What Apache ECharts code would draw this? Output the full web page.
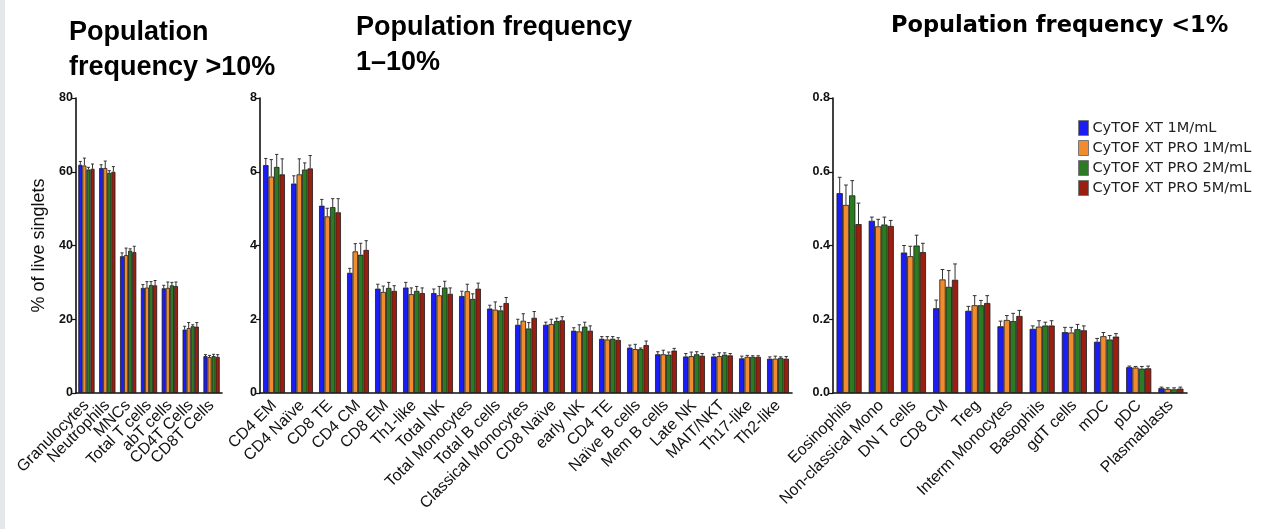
<!DOCTYPE html>
<html>
<head>
<meta charset="utf-8">
<script src="https://cdn.jsdelivr.net/npm/echarts@6/dist/echarts.min.js"></script>
<style>
  html, body { margin: 0; padding: 0; background: #fff; }
  #chart { width: 1261px; height: 529px; }
</style>
</head>
<body>
<div id="chart"></div>
<script>
// Instrument / concentration groups
const seriesNames = ['CyTOF XT 1M/mL', 'CyTOF XT PRO 1M/mL', 'CyTOF XT PRO 2M/mL', 'CyTOF XT PRO 5M/mL'];
const seriesColors = ['#1c1cf5', '#f28a2e', '#2c7a22', '#9a1f10'];

// Panel 1: populations > 10 % of live singlets
const catsHigh = ['Granulocytes', 'Neutrophils', 'MNCs', 'Total T cells', 'abT cells', 'CD4T Cells', 'CD8T Cells'];
const highXT1 = [61.9, 61.0, 37.1, 28.5, 28.4, 17.2, 10.0];
const highPRO1 = [61.7, 61.0, 37.4, 28.6, 28.5, 17.6, 9.75];
const highPRO2 = [60.6, 59.7, 38.6, 29.3, 29.2, 18.1, 10.0];
const highPRO5 = [60.8, 60.0, 38.2, 29.2, 29.0, 18.0, 9.8];
const highXT1Sd = [0.9, 0.9, 0.9, 0.9, 0.8, 0.9, 0.4];
const highPRO1Sd = [2.0, 1.9, 1.9, 1.6, 1.6, 1.5, 0.45];
const highPRO2Sd = [0.6, 0.6, 0.5, 0.9, 0.8, 0.4, 0.5];
const highPRO5Sd = [1.3, 1.4, 1.6, 1.3, 1.1, 1.1, 0.6];

// Panel 2: populations 1-10 %
const catsMid = ['CD4 EM', 'CD4 Naïve', 'CD8 TE', 'CD4 CM', 'CD8 EM', 'Th1-like', 'Total NK', 'Total Monocytes',
  'Total B cells', 'Classical Monocytes', 'CD8 Naïve', 'early NK', 'CD4 TE', 'Naïve B cells', 'Mem B cells',
  'Late NK', 'MAIT/NKT', 'Th17-like', 'Th2-like'];
const midXT1 = [6.18, 5.68, 5.08, 3.26, 2.83, 2.86, 2.71, 2.63, 2.29, 1.85, 1.85, 1.69, 1.47, 1.23, 1.05, 0.99, 0.99, 0.94, 0.93];
const midPRO1 = [5.87, 5.93, 4.79, 3.84, 2.74, 2.68, 2.65, 2.76, 2.26, 1.96, 1.87, 1.67, 1.45, 1.19, 1.05, 1.00, 1.00, 0.98, 0.93];
const midPRO2 = [6.13, 6.06, 5.04, 3.75, 2.85, 2.77, 2.86, 2.55, 2.24, 1.75, 1.95, 1.80, 1.47, 1.19, 1.04, 1.05, 1.04, 0.98, 0.95];
const midPRO5 = [5.93, 6.09, 4.90, 3.88, 2.77, 2.71, 2.69, 2.83, 2.44, 2.04, 1.97, 1.69, 1.44, 1.30, 1.15, 1.01, 1.02, 0.98, 0.93];
const midXT1Sd = [0.18, 0.21, 0.17, 0.12, 0.12, 0.14, 0.11, 0.13, 0.09, 0.15, 0.07, 0.08, 0.06, 0.07, 0.07, 0.08, 0.06, 0.06, 0.05];
const midPRO1Sd = [0.46, 0.42, 0.22, 0.21, 0.16, 0.17, 0.24, 0.19, 0.21, 0.19, 0.13, 0.18, 0.08, 0.13, 0.11, 0.11, 0.09, 0.04, 0.07];
const midPRO2Sd = [0.34, 0.18, 0.23, 0.31, 0.15, 0.12, 0.17, 0.14, 0.11, 0.16, 0.08, 0.12, 0.06, 0.03, 0.07, 0.07, 0.05, 0.03, 0.03];
const midPRO5Sd = [0.42, 0.35, 0.37, 0.25, 0.14, 0.14, 0.16, 0.15, 0.15, 0.17, 0.10, 0.13, 0.06, 0.11, 0.06, 0.06, 0.05, 0.03, 0.06];

// Panel 3: populations < 1 %
const catsLow = ['Eosinophils', 'Non-classical Mono', 'DN T cells', 'CD8 CM', 'Treg', 'Interm Monocytes',
  'Basophils', 'gdT cells', 'mDC', 'pDC', 'Plasmablasts'];
const lowXT1 = [0.542, 0.467, 0.381, 0.230, 0.223, 0.181, 0.174, 0.165, 0.139, 0.070, 0.013];
const lowPRO1 = [0.510, 0.452, 0.371, 0.308, 0.238, 0.198, 0.180, 0.164, 0.154, 0.069, 0.011];
const lowPRO2 = [0.536, 0.457, 0.400, 0.288, 0.238, 0.195, 0.183, 0.173, 0.145, 0.066, 0.010];
const lowPRO5 = [0.458, 0.453, 0.382, 0.307, 0.244, 0.209, 0.183, 0.170, 0.153, 0.067, 0.012];
const lowXT1Sd = [0.043, 0.010, 0.019, 0.022, 0.012, 0.014, 0.008, 0.013, 0.009, 0.003, 0.003];
const lowPRO1Sd = [0.054, 0.019, 0.027, 0.027, 0.026, 0.012, 0.016, 0.014, 0.010, 0.003, 0.003];
const lowPRO2Sd = [0.040, 0.020, 0.028, 0.044, 0.013, 0.021, 0.009, 0.013, 0.011, 0.006, 0.004];
const lowPRO5Sd = [0.057, 0.015, 0.024, 0.043, 0.020, 0.015, 0.013, 0.012, 0.008, 0.006, 0.004];

// Y axis ticks per panel
const yAxisHigh = { min: 0, max: 80, interval: 20 };
const yAxisMid = { min: 0, max: 8, interval: 2 };
const yAxisLow = { min: 0, max: 0.8, interval: 0.2 };

const CATEGORY_GAP = 0.22;

const panels = [
  { cats: catsHigh, means: [highXT1, highPRO1, highPRO2, highPRO5], sds: [highXT1Sd, highPRO1Sd, highPRO2Sd, highPRO5Sd], y: yAxisHigh, digits: 0 },
  { cats: catsMid, means: [midXT1, midPRO1, midPRO2, midPRO5], sds: [midXT1Sd, midPRO1Sd, midPRO2Sd, midPRO5Sd], y: yAxisMid, digits: 0 },
  { cats: catsLow, means: [lowXT1, lowPRO1, lowPRO2, lowPRO5], sds: [lowXT1Sd, lowPRO1Sd, lowPRO2Sd, lowPRO5Sd], y: yAxisLow, digits: 1 }
];

const grids = [
  { left: 76, top: 98, width: 146, height: 295 },
  { left: 260, top: 98, width: 532, height: 295 },
  { left: 833, top: 98, width: 354, height: 295 }
];

const AXIS_COLOR = '#111';
const LABEL_FONT = 'Liberation Sans, Arial, sans-serif';

const xAxes = panels.map((p, i) => ({
  type: 'category',
  gridIndex: i,
  data: p.cats,
  axisLine: { lineStyle: { color: AXIS_COLOR, width: 1.6 } },
  axisTick: { alignWithLabel: true, length: 4, lineStyle: { color: AXIS_COLOR, width: 1.2 } },
  axisLabel: { interval: 0, rotate: 45, fontSize: 16, color: '#111', margin: 10, fontFamily: LABEL_FONT }
}));

const yAxes = panels.map((p, i) => ({
  type: 'value',
  gridIndex: i,
  min: p.y.min, max: p.y.max, interval: p.y.interval,
  splitLine: { show: false },
  axisLine: { show: true, lineStyle: { color: AXIS_COLOR, width: 1.6 } },
  axisTick: { show: true, length: 4, lineStyle: { color: AXIS_COLOR, width: 1.2 } },
  axisLabel: {
    fontSize: 12.5, fontWeight: 'bold', color: '#111', margin: 3, fontFamily: LABEL_FONT,
    formatter: v => v.toFixed(p.digits)
  },
  name: i === 0 ? '% of live singlets' : '',
  nameLocation: 'middle',
  nameGap: 28,
  nameTextStyle: { fontSize: 18, color: '#111', fontFamily: LABEL_FONT }
}));

// Upper-only error bars positioned on each bar of the group
function errorRenderer(params, api) {
  const cat = api.value(0);
  const k = api.value(1);
  const m = api.value(2);
  const s = api.value(3);
  const base = api.coord([cat, m]);
  const top = api.coord([cat, m + s]);
  const band = api.size([1, 0])[0];
  const groupW = band * (1 - CATEGORY_GAP);
  const bw = groupW / 4;
  const x = base[0] - groupW / 2 + bw * (k + 0.5);
  const half = Math.max(1.5, bw * 0.3);
  const style = { stroke: '#333', lineWidth: 1 };
  return {
    type: 'group',
    children: [
      { type: 'line', shape: { x1: x, y1: base[1], x2: x, y2: top[1] }, style },
      { type: 'line', shape: { x1: x - half, y1: top[1], x2: x + half, y2: top[1] }, style }
    ]
  };
}

const series = [];
panels.forEach((p, i) => {
  p.means.forEach((vals, k) => {
    series.push({
      type: 'bar',
      name: seriesNames[k],
      xAxisIndex: i,
      yAxisIndex: i,
      data: vals,
      barGap: '0%',
      barCategoryGap: (CATEGORY_GAP * 100) + '%',
      itemStyle: { color: seriesColors[k], borderColor: '#1a1a1a', borderWidth: 0.8 },
      emphasis: { disabled: true }
    });
  });
  const errData = [];
  p.means.forEach((vals, k) => {
    vals.forEach((v, c) => errData.push([c, k, v, p.sds[k][c]]));
  });
  series.push({
    type: 'custom',
    xAxisIndex: i,
    yAxisIndex: i,
    data: errData,
    encode: { x: 0, y: 2 },
    renderItem: errorRenderer,
    z: 5,
    silent: true
  });
});

const titleFont = 'Liberation Sans, Arial, sans-serif';
const option = {
  backgroundColor: '#fff',
  animation: false,
  title: [
    { text: 'Population\nfrequency >10%', left: 64, top: 10,
      textStyle: { fontSize: 27, fontWeight: 'bold', color: '#000', lineHeight: 35, fontFamily: titleFont } },
    { text: 'Population frequency\n1–10%', left: 351, top: 5,
      textStyle: { fontSize: 27, fontWeight: 'bold', color: '#000', lineHeight: 35, fontFamily: titleFont } },
    { text: 'Population frequency <1%', left: 886, top: 10,
      textStyle: { fontSize: 22.5, fontWeight: 'bold', color: '#000', fontFamily: 'DejaVu Sans, sans-serif' } }
  ],
  legend: {
    data: seriesNames,
    orient: 'vertical',
    left: 1078,
    top: 120,
    itemWidth: 10,
    itemHeight: 15,
    itemGap: 4,
    padding: 0,
    icon: 'rect',
    itemStyle: { borderColor: '#777', borderWidth: 1 },
    textStyle: { fontSize: 14.5, color: '#222', fontFamily: 'DejaVu Sans, sans-serif', padding: [0, 0, 0, -1] },
    selectedMode: false
  },
  graphic: [
    { type: 'rect', left: 0, top: 0, shape: { width: 5, height: 529 }, style: { fill: '#e6e7ea' }, silent: true }
  ],
  grid: grids,
  xAxis: xAxes,
  yAxis: yAxes,
  series
};

const chart = echarts.init(document.getElementById('chart'), null, { renderer: 'canvas' });
chart.setOption(option);
</script>
</body>
</html>
